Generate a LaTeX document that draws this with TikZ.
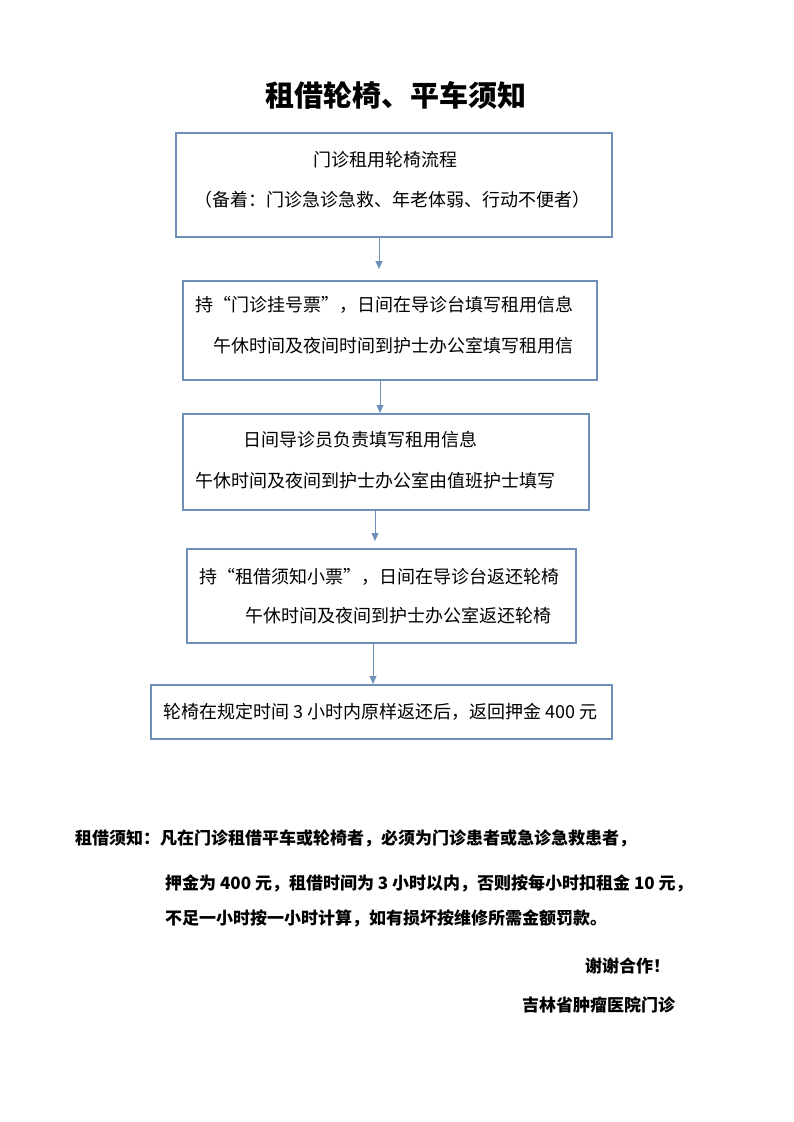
\documentclass[tikz,border=0pt]{standalone}
\usepackage{fontspec}
\setmainfont{Noto Sans CJK SC}
\usetikzlibrary{arrows.meta}
\definecolor{bx}{HTML}{6E8FB8}
\tikzset{
  box/.style={draw=bx,line width=1.1pt},
  txt/.style={anchor=west,inner sep=0pt,font=\fontsize{18}{20}\selectfont},
  btxt/.style={anchor=west,inner sep=0pt,font=\fontsize{17}{20}\selectfont\bfseries},
  arr/.style={draw=bx,line width=0.9pt,-{Triangle[length=8pt,width=7pt]}}
}
\begin{document}
\begin{tikzpicture}[x=1pt,y=-1pt]
\useasboundingbox (0,0) rectangle (793,1122);
\node[inner sep=0pt,font=\fontsize{29}{32}\selectfont\bfseries] (title) at (396,95) {租借轮椅、平车须知};
\coordinate (b1a) at (176,133); \coordinate (b1b) at (612,237);
\draw[box] (b1a) rectangle (b1b);
\node[txt,anchor=center] (t11) at (385,160) {门诊租用轮椅流程};
\node[txt,anchor=center] (t12) at (392,200) {（备着：门诊急诊急救、年老体弱、行动不便者）};
\draw[box] (183,281) rectangle (597,380);
\node[txt] (t21) at (195,305) {持“门诊挂号票”，日间在导诊台填写租用信息};
\node[txt] (t22) at (213,346) {午休时间及夜间时间到护士办公室填写租用信};
\draw[box] (183,414) rectangle (589,510);
\node[txt] (t31) at (243,440) {日间导诊员负责填写租用信息};
\node[txt] (t32) at (195,481) {午休时间及夜间到护士办公室由值班护士填写};
\draw[box] (187,549) rectangle (576,643);
\node[txt] (t41) at (199,577) {持“租借须知小票”，日间在导诊台返还轮椅};
\node[txt] (t42) at (245,616) {午休时间及夜间到护士办公室返还轮椅};
\draw[box] (151,685) rectangle (612,739);
\node[txt] (t51) at (163,712) {轮椅在规定时间 3 小时内原样返还后，返回押金 400 元};
\coordinate (a1s) at (379,237); \coordinate (a1e) at (379,269);
\coordinate (a2s) at (380,380); \coordinate (a2e) at (380,413);
\coordinate (a3s) at (375,510); \coordinate (a3e) at (375,541);
\coordinate (a4s) at (373,643); \coordinate (a4e) at (373,684);
\draw[arr] (a1s) -- (a1e);
\draw[arr] (a2s) -- (a2e);
\draw[arr] (a3s) -- (a3e);
\draw[arr] (a4s) -- (a4e);
\node[btxt] (n1) at (75,838) {租借须知：凡在门诊租借平车或轮椅者，必须为门诊患者或急诊急救患者，};
\node[btxt] (n2) at (165,883) {押金为 400 元，租借时间为 3 小时以内，否则按每小时扣租金 10 元，};
\node[btxt] (n3) at (165,918) {不足一小时按一小时计算，如有损坏按维修所需金额罚款。};
\node[btxt] (n4) at (585,966) {谢谢合作！};
\node[btxt] (n5) at (522,1005) {吉林省肿瘤医院门诊};
\end{tikzpicture}
\end{document}
